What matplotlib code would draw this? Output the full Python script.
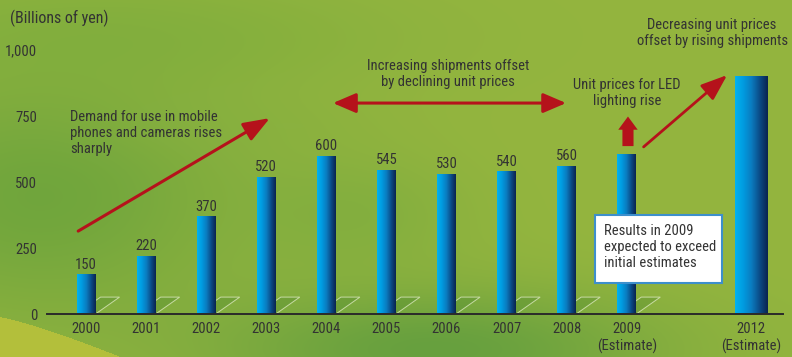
import numpy as np
import matplotlib.pyplot as plt
from matplotlib.colors import LinearSegmentedColormap, to_rgb
from matplotlib.patches import Polygon, Rectangle

plt.rcParams['font.family'] = ['Roboto Condensed', 'DejaVu Sans']
plt.rcParams['font.stretch'] = 'condensed'
FS = 10.5

# data (billions of yen)
years = ['2000', '2001', '2002', '2003', '2004', '2005', '2006', '2007', '2008',
         '2009\n(Estimate)', '2012\n(Estimate)']
xpos = [0, 1, 2, 3, 4, 5, 6, 7, 8, 9, 11.07]
values = [150, 220, 370, 520, 600, 545, 530, 540, 560, 605, 900]
value_labels = ['150', '220', '370', '520', '600', '545', '530', '540', '560', '', '']
yticks = [0, 250, 500, 750, 1000]
ytick_labels = ['0', '250', '500', '750', '1,000']

W, H = 792, 357
fig = plt.figure(figsize=(W / 100, H / 100), dpi=100)

# ---- green background
xx, yy = np.meshgrid(np.linspace(0, 1, W), np.linspace(0, 1, H))
bg = np.ones((H, W, 3)) * np.array(to_rgb('#94b53f'))
def blob(cx, cy, sx, sy, col, amt):
    global bg
    w = amt * np.exp(-((xx - cx) ** 2 / (2 * sx ** 2) + (yy - cy) ** 2 / (2 * sy ** 2)))
    bg = bg * (1 - w[..., None]) + np.array(to_rgb(col)) * w[..., None]
blob(0.05, 0.55, 0.18, 0.25, '#68a23c', 0.8)
blob(0.15, 0.10, 0.25, 0.12, '#7aac3c', 0.6)
blob(0.55, 0.98, 0.20, 0.12, '#5c9b3f', 0.8)
blob(0.45, 0.60, 0.10, 0.12, '#76aa3e', 0.5)
blob(0.30, 0.35, 0.12, 0.06, '#86b040', 0.4)
# yellow sweep in the lower-left corner
curve = 0.89 + 0.11 * (xx / 0.15) ** 1.2
bg[yy > curve] = np.array(to_rgb('#b3bf3b'))
ax_bg = fig.add_axes([0, 0, 1, 1])
ax_bg.imshow(bg, aspect='auto', extent=(0, 1, 0, 1))
ax_bg.axis('off')

# ---- main axes
ax = fig.add_axes([47 / W, 43 / H, (783 - 47) / W, 264 / H])
ax.patch.set_alpha(0)

bar_cmap = LinearSegmentedColormap.from_list(
    'cyl', ['#00b2f0', '#009be0', '#0a7cc0', '#0b4c88', '#0a2450'])
grad = np.linspace(0, 1, 64).reshape(1, -1)
widths = [0.316] * 10 + [0.535]
bars = ax.bar(xpos, values, width=widths, color='none', zorder=3)
for i, b in enumerate(bars):
    x0, w, h = b.get_x(), b.get_width(), b.get_height()
    im = ax.imshow(grad, cmap=bar_cmap, aspect='auto', extent=(x0, x0 + w, 0, h),
                   zorder=3)
    im.set_clip_path(b)
    if i < 10:
        # little floor tile behind each bar
        corners = [(x0, 0), (x0 + w, 0), (x0 + w + 0.4, 64), (x0 + 0.4, 64)]
        ax.add_patch(Polygon(corners, closed=True, facecolor='#3f7f2a', alpha=0.25,
                             edgecolor='none', zorder=2))
        ax.add_patch(Polygon(corners, closed=True, fill=False, edgecolor='#e8f0d0',
                             alpha=0.7, lw=0.7, zorder=2))
    if value_labels[i]:
        ax.annotate(value_labels[i], (xpos[i], values[i]), xytext=(0, 2),
                    textcoords='offset points', ha='center', va='bottom',
                    fontsize=FS, color='#333333', zorder=5)
ax.set_xlim(-0.649, 11.6)
ax.set_ylim(0, 1000)

for s in ['top', 'right', 'left']:
    ax.spines[s].set_visible(False)
ax.spines['bottom'].set_color('#2a2a2a')
ax.spines['bottom'].set_linewidth(1.4)
ax.spines['bottom'].set_zorder(4)
ax.set_xticks(xpos)
ax.set_xticklabels(years, fontsize=FS, color='#333333', linespacing=1.2)
ax.set_yticks(yticks)
ax.set_yticklabels(ytick_labels, fontsize=FS, color='#333333')
ax.tick_params(axis='both', length=0)
ax.tick_params(axis='x', pad=6)
ax.tick_params(axis='y', pad=7)

fig.text(10 / W, 1 - 18 / H, '(Billions of yen)', fontsize=11.5, color='#333333',
         va='center', ha='left')

# ---- arrows and notes
red = '#b5121b'
ax.annotate('', xy=(3.06, 742), xytext=(-0.13, 314),
            arrowprops=dict(arrowstyle='-|>,head_length=0.8,head_width=0.3',
                            mutation_scale=20, color=red, lw=2.2, shrinkA=0, shrinkB=0),
            annotation_clip=False, zorder=6)
ax.annotate('', xy=(4.11, 799), xytext=(7.99, 799),
            arrowprops=dict(arrowstyle='<|-|>,head_length=0.7,head_width=0.3',
                            mutation_scale=20, color=red, lw=2.2, shrinkA=0, shrinkB=0),
            annotation_clip=False, zorder=6)
ax.annotate('', xy=(9.02, 748), xytext=(9.02, 636),
            arrowprops=dict(arrowstyle='simple,head_length=0.95,head_width=1.4,tail_width=0.8',
                            mutation_scale=10, color=red, lw=0, shrinkA=0, shrinkB=0),
            annotation_clip=False, zorder=6)
ax.annotate('', xy=(10.67, 905), xytext=(9.28, 633),
            arrowprops=dict(arrowstyle='-|>,head_length=0.8,head_width=0.3',
                            mutation_scale=20, color=red, lw=2.0, shrinkA=0, shrinkB=0),
            annotation_clip=False, zorder=6)

txt = dict(fontsize=FS, color='#333333', zorder=7, annotation_clip=False)
ax.annotate('Demand for use in mobile\nphones and cameras rises\nsharply',
            (-0.27, 773), ha='left', va='top', **txt)
ax.annotate('Increasing shipments offset\nby declining unit prices',
            (6.02, 909), ha='center', va='center', **txt)
ax.annotate('Unit prices for LED\nlighting rise',
            (9.0, 837), ha='center', va='center', **txt)
ax.annotate('Decreasing unit prices\noffset by rising shipments',
            (10.42, 1064), ha='center', va='center', **txt)

ax.add_patch(Rectangle((8.47, 117), 2.11, 258, facecolor='white',
                       edgecolor='#3d8fcc', lw=1.5, zorder=6, clip_on=False))
ax.annotate('Results in 2009\nexpected to exceed\ninitial estimates',
            (8.62, 254), ha='left', va='center', **txt)

fig.savefig('out.png', dpi=100)
